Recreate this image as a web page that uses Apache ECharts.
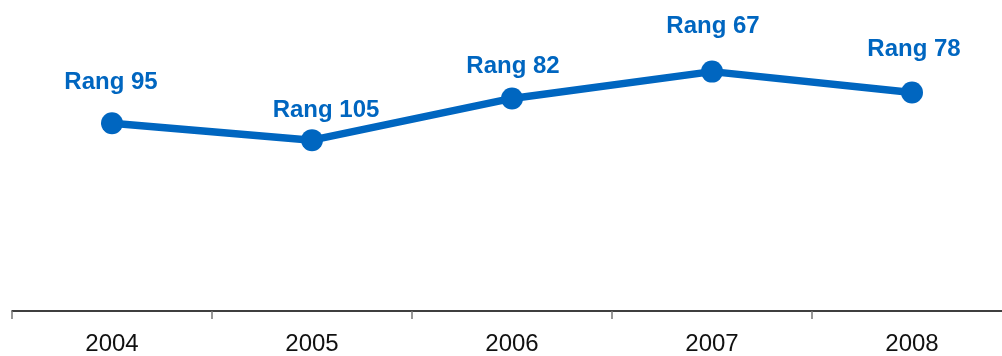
<!DOCTYPE html>
<html style="height: 100%">
<head>
<meta charset="utf-8">
<script src="https://cdn.jsdelivr.net/npm/echarts@6/dist/echarts.min.js"></script>
</head>
<body style="height: 100%; margin: 0; background: #fff; overflow: hidden">
<div id="container" style="width: 1012px; height: 356px"></div>
<script type="text/javascript">
// categories and values
var years = ['2004', '2005', '2006', '2007', '2008'];
var ranks = [95, 105, 82, 67, 78];
// plotted height of each point
var scores = [189, 172, 214, 241, 220];

// label placement tweaks per point (gap above marker, horizontal nudge)
var labelGap = [18, 7, 9, 22, 20];
var labelShift = [-1, 14, 1, 1, 2];

var dom = document.getElementById('container');
var myChart = echarts.init(dom);

var seriesData = [];
for (var i = 0; i < scores.length; i++) {
    seriesData.push({
        value: scores[i],
        label: { distance: labelGap[i], offset: [labelShift[i], 0] }
    });
}

// container is 10px wider than the window so the last category runs off the right edge
var option = {
    animation: false,
    grid: { left: 12, right: 0, top: 13, bottom: 43 },
    xAxis: {
        type: 'category',
        data: years,
        boundaryGap: true,
        axisLine: { lineStyle: { color: '#000', width: 1.5 } },
        axisTick: { show: true, length: 8, lineStyle: { color: '#777', width: 1.5 } },
        axisLabel: {
            color: '#111',
            fontSize: 24,
            fontFamily: 'Liberation Sans, Arial, sans-serif',
            margin: 21
        }
    },
    yAxis: {
        type: 'value',
        min: 0,
        max: 300,
        show: false
    },
    series: [{
        type: 'line',
        data: seriesData,
        symbol: 'circle',
        symbolSize: 22,
        lineStyle: { color: '#0066c0', width: 7.5 },
        itemStyle: { color: '#0066c0' },
        label: {
            show: true,
            position: 'top',
            color: '#0066c0',
            fontSize: 24,
            fontWeight: 'bold',
            fontFamily: 'Liberation Sans, Arial, sans-serif',
            formatter: function (p) { return 'Rang ' + ranks[p.dataIndex]; }
        }
    }]
};

myChart.setOption(option, true);
</script>
</body>
</html>
